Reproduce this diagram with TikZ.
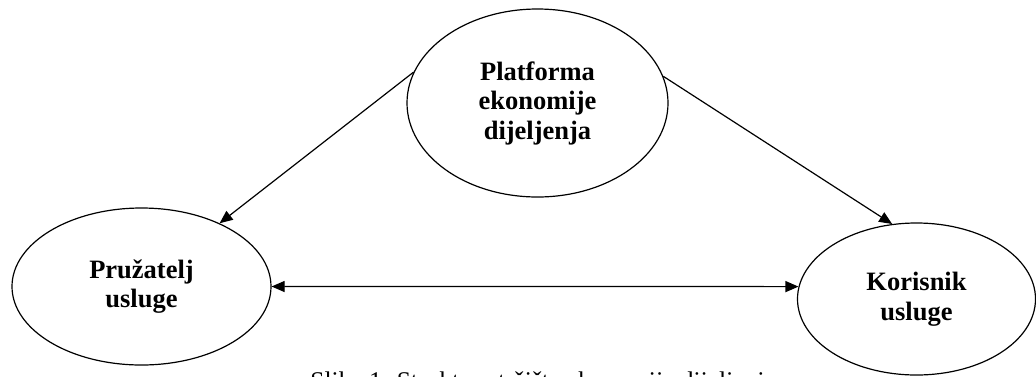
\documentclass[tikz,border=0pt]{standalone}
\usepackage{fontspec}
\setmainfont{Liberation Serif}
\usetikzlibrary{shapes.geometric,arrows.meta}
\begin{document}
\begin{tikzpicture}[x=1pt,y=-1pt,
  oval/.style={draw,ellipse,line width=1.2pt,inner sep=0pt,align=center,
    font=\fontsize{26.5}{29.5}\selectfont\bfseries},
  conn/.style={line width=1.2pt,-{Triangle[length=13pt,width=11pt]}},
  both/.style={line width=1.2pt,{Triangle[length=13pt,width=11pt]}-{Triangle[length=13pt,width=11pt]}}]
\useasboundingbox (0,0) rectangle (1036,376);
\clip (0,0) rectangle (1036,376);
\node[oval,minimum width=261pt,minimum height=188pt] (plat) at (537.5,103) {Platforma\\ekonomije\\dijeljenja};
\node[oval,minimum width=259pt,minimum height=157pt] (pruz) at (141.5,286.5) {Pružatelj\\usluge};
\node[oval,minimum width=238pt,minimum height=152pt] (kor) at (916.5,299) {Korisnik\\usluge};
\draw[conn] (plat.166) -- (pruz.39);
\draw[conn] (plat.12.6) -- (kor.108);
\draw[both] (pruz.-0.5) -- (kor.174.7);
\node[anchor=base,font=\fontsize{25.5}{29}\selectfont] (cap) at (543,389) {Slika 1. Struktura tržišta ekonomije dijeljenja};
\end{tikzpicture}
\end{document}
